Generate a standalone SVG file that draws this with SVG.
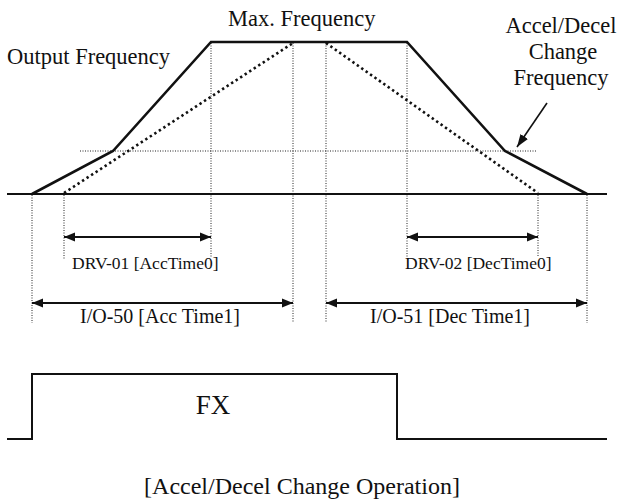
<svg xmlns="http://www.w3.org/2000/svg" width="618" height="502" viewBox="0 0 618 502">
<style>
text{font-family:"Liberation Serif","Times New Roman",serif;fill:#111}
.axis{stroke:#111;stroke-width:2;fill:none}
.curve{stroke:#111;stroke-width:2.6;fill:none;stroke-linejoin:miter}
.vdot{stroke:#222;stroke-width:1;stroke-dasharray:1 1.5;fill:none}
.hdot{stroke:#222;stroke-width:1;stroke-dasharray:1 1.5;fill:none}
.ddot{stroke:#111;stroke-width:2.6;stroke-dasharray:2.4 3;fill:none}
.dim{stroke:#111;stroke-width:2;fill:none;marker-start:url(#ah);marker-end:url(#ah)}
.lbl{font-size:17.5px}
.lbl2{font-size:20px}
.big{font-size:22.5px}
</style>
<defs>
<marker id="ah" viewBox="0 0 10 10" refX="10" refY="5" markerWidth="5.5" markerHeight="5.5" orient="auto-start-reverse" markerUnits="strokeWidth">
<path d="M0,1 L10,5 L0,9 Z" fill="#111"/>
</marker>
<marker id="ah2" viewBox="0 0 10 10" refX="10" refY="5" markerWidth="8" markerHeight="8" orient="auto" markerUnits="strokeWidth">
<path d="M0,1.5 L10,5 L0,8.5 Z" fill="#111"/>
</marker>
</defs>

<g id="guides">
<line class="hdot" x1="80" y1="151" x2="537" y2="151"/>
<line class="vdot" x1="32" y1="195" x2="32" y2="323"/>
<line class="vdot" x1="64" y1="195" x2="64" y2="259"/>
<line class="vdot" x1="211" y1="43" x2="211" y2="257"/>
<line class="vdot" x1="293" y1="43" x2="293" y2="323"/>
<line class="vdot" x1="326" y1="43" x2="326" y2="323"/>
<line class="vdot" x1="407" y1="43" x2="407" y2="257"/>
<line class="vdot" x1="538" y1="195" x2="538" y2="257"/>
<line class="vdot" x1="587" y1="195" x2="587" y2="323"/>
</g>

<g id="axis">
<line class="axis" x1="7" y1="194" x2="607" y2="194"/>
</g>

<g id="profile-dotted">
<line class="ddot" x1="64" y1="193" x2="293" y2="43"/>
<line class="ddot" x1="326" y1="43" x2="538" y2="193"/>
</g>

<g id="profile">
<polyline class="curve" points="32,194 113,151 211,42 407,42 505,151 587,194"/>
</g>

<g id="title-output"><text class="big" x="7" y="64">Output Frequency</text></g>
<g id="title-max"><text class="big" x="228" y="26">Max. Frequency</text></g>
<g id="title-change">
<text class="big" x="561" y="33" text-anchor="middle">Accel/Decel</text>
<text class="big" x="563" y="59" text-anchor="middle">Change</text>
<text class="big" x="561" y="85" text-anchor="middle">Frequency</text>
</g>

<g id="connectors">
<line x1="547" y1="103" x2="517" y2="147" stroke="#111" stroke-width="1.6" marker-end="url(#ah2)"/>
<line class="dim" x1="64" y1="237" x2="211" y2="237"/>
<line class="dim" x1="407" y1="237" x2="538" y2="237"/>
<line class="dim" x1="32" y1="303" x2="293" y2="303"/>
<line class="dim" x1="326" y1="303" x2="587" y2="303"/>
</g>

<g id="label-drv01"><text class="lbl" x="72" y="269">DRV-01 [AccTime0]</text></g>
<g id="label-drv02"><text class="lbl" x="405" y="269">DRV-02 [DecTime0]</text></g>
<g id="label-io50"><text class="lbl2" x="80" y="323">I/O-50 [Acc Time1]</text></g>
<g id="label-io51"><text class="lbl2" x="370" y="323">I/O-51 [Dec Time1]</text></g>

<g id="fx">
<polyline class="axis" points="7,439 32,439 32,374 397,374 397,439 607,439"/>
<text x="213" y="414" font-size="27" text-anchor="middle">FX</text>
</g>

<g id="caption"><text x="302" y="494" font-size="24" text-anchor="middle">[Accel/Decel Change Operation]</text></g>
</svg>
